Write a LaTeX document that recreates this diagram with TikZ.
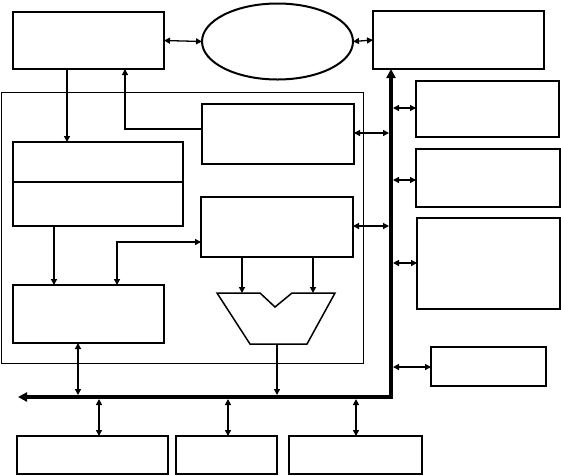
\documentclass[tikz,border=0pt]{standalone}
\usetikzlibrary{arrows.meta,shapes.geometric}
\begin{document}
\begin{tikzpicture}[x=1pt,y=-1pt,
  box/.style={draw,line width=1.5pt,inner sep=0pt,outer sep=0pt},
  conn/.style={line width=1.3pt,arrows={-Triangle[length=6pt,width=6pt]}},
  dconn/.style={line width=1.3pt,arrows={Triangle[length=6pt,width=6pt]-Triangle[length=6pt,width=6pt]}},
  busline/.style={line width=3.5pt,arrows={Triangle[length=9pt,width=9pt]-Triangle[length=9pt,width=9pt]}}]
\useasboundingbox (0,0) rectangle (561,475);
% outer frame
\draw[line width=0.8pt] (1,92) rectangle (363,363);
% boxes
\node[box,minimum width=151pt,minimum height=57pt] (A) at (88.5,40.5) {};
\node[box,ellipse,line width=2pt,minimum width=151pt,minimum height=76pt] (O) at (277.5,41.5) {};
\node[box,minimum width=171pt,minimum height=58pt] (C) at (458.5,40) {};
\node[box,minimum width=152pt,minimum height=60pt] (D) at (278,134) {};
\node[box,minimum width=170pt,minimum height=84pt] (B) at (98,184) {};
\draw[line width=1.5pt] (B.west |- 0,182) -- (B.east |- 0,182);
\node[box,minimum width=152pt,minimum height=60pt] (E) at (277,227) {};
\node[box,minimum width=151pt,minimum height=58pt] (J) at (88.5,314) {};
\node[box,minimum width=143pt,minimum height=56pt] (F) at (487.5,109) {};
\node[box,minimum width=144pt,minimum height=58pt] (G) at (488,178) {};
\node[box,minimum width=143pt,minimum height=91pt] (H) at (488.5,263.5) {};
\node[box,minimum width=115pt,minimum height=39pt] (I) at (488.5,366.5) {};
\node[box,minimum width=151pt,minimum height=38pt] (K) at (92.5,455) {};
\node[box,minimum width=101pt,minimum height=38pt] (L) at (226.5,455) {};
\node[box,minimum width=133pt,minimum height=38pt] (M) at (355.5,455) {};
% ALU shape
\coordinate (alu1) at (217,293);
\coordinate (alu2) at (260,293);
\coordinate (alu3) at (275,307);
\coordinate (alu4) at (292,293);
\coordinate (alu5) at (335,293);
\coordinate (alu6) at (307,344);
\coordinate (alu7) at (250,344);
\draw[line width=1.5pt,line join=miter] (alu1) -- (alu2) -- (alu3) -- (alu4) -- (alu5) -- (alu6) -- (alu7) -- cycle;
\coordinate (aluout) at (277,344);
% helper coordinates
\coordinate (busx) at (391,0);
\coordinate (busy) at (0,397);
\coordinate (corner) at (391,397);
\coordinate (busleft) at (18,397);
\coordinate (x67) at (67,0);
\coordinate (x125) at (125,0);
\coordinate (y129) at (0,129);
\coordinate (y133) at (0,133);
\coordinate (y226) at (0,226);
\coordinate (x54) at (54,0);
\coordinate (x117) at (117,0);
\coordinate (y242) at (0,242);
\coordinate (x78) at (78,0);
\coordinate (x242) at (242,0);
\coordinate (x313) at (313,0);
\coordinate (x99) at (99,0);
\coordinate (x228) at (228,0);
\coordinate (x356) at (356,0);
\coordinate (y108) at (0,108);
\coordinate (y180) at (0,180);
\coordinate (y263) at (0,263);
\coordinate (y367) at (0,367);
% bus
\draw[busline,line join=miter] (C.south -| busx) -- (corner) -- (busleft);
% connectors
\draw[dconn] (A.east) -- (O.west);
\draw[dconn] (O.east) -- (C.west);
\draw[conn] (A.south -| x67) -- (B.north -| x67);
\draw[conn] (D.west |- y129) -- (x125 |- y129) -- (A.south -| x125);
\draw[dconn,shorten >=2pt] (D.east |- y133) -- (busx |- y133);
\draw[dconn,shorten >=2pt] (E.east |- y226) -- (busx |- y226);
\draw[dconn,shorten <=2pt] (busx |- y108) -- (F.west |- y108);
\draw[dconn,shorten <=2pt] (busx |- y180) -- (G.west |- y180);
\draw[dconn,shorten <=2pt] (busx |- y263) -- (H.west |- y263);
\draw[dconn,shorten <=2pt] (busx |- y367) -- (I.west |- y367);
\draw[conn] (B.south -| x54) -- (J.north -| x54);
\draw[dconn] (J.north -| x117) -- (x117 |- y242) -- (E.west |- y242);
\draw[dconn,shorten >=2pt] (J.south -| x78) -- (x78 |- busy);
\draw[conn] (E.south -| x242) -- (x242 |- alu1);
\draw[conn] (E.south -| x313) -- (x313 |- alu5);
\draw[conn,shorten >=2pt] (aluout) -- (aluout |- busy);
\draw[dconn,shorten <=2pt] (x99 |- busy) -- (K.north -| x99);
\draw[dconn,shorten <=2pt] (x228 |- busy) -- (L.north -| x228);
\draw[dconn,shorten <=2pt] (x356 |- busy) -- (M.north -| x356);
\end{tikzpicture}
\end{document}
